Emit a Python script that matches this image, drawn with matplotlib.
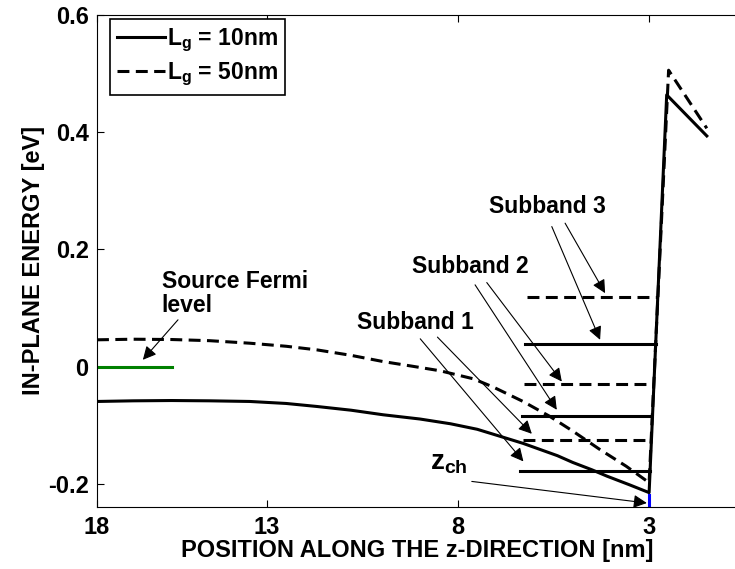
from matplotlib import pyplot as plt
import numpy as np

# Fonts: bold Arial-like everywhere, mathtext for the subscripts
plt.rcParams['font.family'] = ['Liberation Sans', 'DejaVu Sans']
plt.rcParams['font.weight'] = 'bold'
plt.rcParams['mathtext.fontset'] = 'custom'
plt.rcParams['mathtext.rm'] = 'Liberation Sans:bold'
plt.rcParams['mathtext.bf'] = 'Liberation Sans:bold'
plt.rcParams['mathtext.default'] = 'bf'
plt.rcParams['axes.unicode_minus'] = False

# Conduction band profiles (position in nm, energy in eV)
pos_10 = [17.45, 16.5, 15.5, 14.5, 13.45, 12.5, 11.7, 10.8, 9.96, 9.0, 8.2, 7.5, 6.9,
          6.3, 5.85, 5.4, 5.0, 4.5, 4.1, 3.5, 3.0, 2.54, 1.49]
energy_10 = [-0.0596, -0.0585, -0.0580, -0.0585, -0.0596, -0.0630, -0.0681, -0.0745, -0.0823,
             -0.0895, -0.0976, -0.107, -0.119, -0.131, -0.1415, -0.152, -0.1635, -0.176,
             -0.187, -0.202, -0.215, 0.463, 0.393]

pos_50 = [17.45, 16.5, 15.5, 14.5, 13.45, 12.5, 11.7, 10.8, 9.96, 9.2, 8.47, 7.6, 7.08,
          6.3, 5.6, 5.0, 4.3, 3.6, 3.0, 2.49, 1.49]
energy_50 = [0.0455, 0.0465, 0.0460, 0.0440, 0.0397, 0.0345, 0.0284, 0.019, 0.0084, 0.0005,
             -0.0073, -0.021, -0.035, -0.0596, -0.085, -0.110, -0.141, -0.170, -0.198,
             0.505, 0.406]

# Subband levels and where they start on the left
subbands_10 = [-0.178, -0.085, 0.039]
subbands_10_start = [6.39, 6.33, 6.25]
subbands_50 = [-0.125, -0.0295, 0.119]
subbands_50_start = [6.30, 6.27, 6.2]

# Source Fermi level and channel position marker
fermi_x = [17.45, 15.49]
fermi_y = [0.0, 0.0]
zch_x = [3.0, 3.0]
zch_y = [-0.219, -0.24]

# Annotations: label, label position, font size, arrows (start, end)
notes = [
    ('Source Fermi\nlevel', (15.76, 0.0937), 16.5, [((15.33, 0.0796), (16.25, 0.0114))]),
    ('Subband 1', (10.64, 0.0637), 16.5, [((8.99, 0.0472), (6.29, -0.1618)),
                                          ((8.54, 0.0501), (6.07, -0.1147))]),
    ('Subband 2', (9.21, 0.159), 16.5, [((7.555, 0.1392), (5.416, -0.0738)),
                                        ((7.249, 0.1431), (5.285, -0.0256))]),
    ('Subband 3', (7.18, 0.2622), 16.5, [((5.547, 0.2385), (4.283, 0.0455)),
                                         ((5.199, 0.2443), (4.152, 0.125))]),
    (r'$z_{ch}$', (8.73, -0.1763), 20, [((7.641, -0.1959), (3.06, -0.2327))]),
]

xticks = [17.45, 13, 8, 3]
xticklabels = ['18', '13', '8', '3']
yticks = [-0.2, 0, 0.2, 0.4, 0.6]
yticklabels = ['-0.2', '0', '0.2', '0.4', '0.6']

fig = plt.figure(figsize=(7.35, 5.69), dpi=100)
ax = fig.add_axes([97 / 735, 61.7 / 569, 640 / 735, 492.8 / 569])

dash = (0, (3.9, 2.1))
lw = 2.2

ax.plot(pos_10, energy_10, color='k', lw=lw, label=r'$L_g$ = 10nm')
ax.plot(pos_50, energy_50, color='k', lw=lw, linestyle=dash, label=r'$L_g$ = 50nm')

# subbands end on the steep wall of each profile
for level, start in zip(subbands_10, subbands_10_start):
    end = np.interp(level, energy_10[-3:-1], pos_10[-3:-1])
    ax.plot([start, end], [level, level], color='k', lw=lw)
for level, start in zip(subbands_50, subbands_50_start):
    end = np.interp(level, energy_50[-3:-1], pos_50[-3:-1])
    ax.plot([start, end], [level, level], color='k', lw=lw, linestyle=dash)

ax.plot(fermi_x, fermi_y, color='#008000', lw=lw)
ax.plot(zch_x, zch_y, color='b', lw=lw)

for text, xy, size, arrows in notes:
    ax.text(xy[0], xy[1], text, fontsize=size, fontweight='bold',
            ha='left', va='baseline', linespacing=1.05)
    for a, b in arrows:
        ax.annotate('', xy=b, xytext=a,
                    arrowprops=dict(arrowstyle='-|>', lw=0.8, color='k',
                                    mutation_scale=20, shrinkA=0, shrinkB=0))

ax.set_xlim(17.45, 0.7)
ax.set_ylim(-0.24, 0.6)
ax.set_xticks(xticks)
ax.set_xticklabels(xticklabels)
ax.set_yticks(yticks)
ax.set_yticklabels(yticklabels)
ax.tick_params(direction='in', top=True, length=5, labelsize=17, pad=6)
ax.spines['right'].set_visible(False)

ax.set_xlabel('POSITION ALONG THE z-DIRECTION [nm]', fontsize=17, fontweight='bold', labelpad=0)
ax.set_ylabel('IN-PLANE ENERGY [eV]', fontsize=17, fontweight='bold', labelpad=2)

leg = ax.legend(loc='upper left', bbox_to_anchor=(0.0204, 0.99), borderaxespad=0,
                fontsize=16.5, handlelength=2.1, handletextpad=0.1, borderpad=0.3,
                labelspacing=0.3, fancybox=False, framealpha=1)
leg.get_frame().set_edgecolor('k')
leg.get_frame().set_linewidth(1.2)

plt.savefig('out.png', dpi=100)
